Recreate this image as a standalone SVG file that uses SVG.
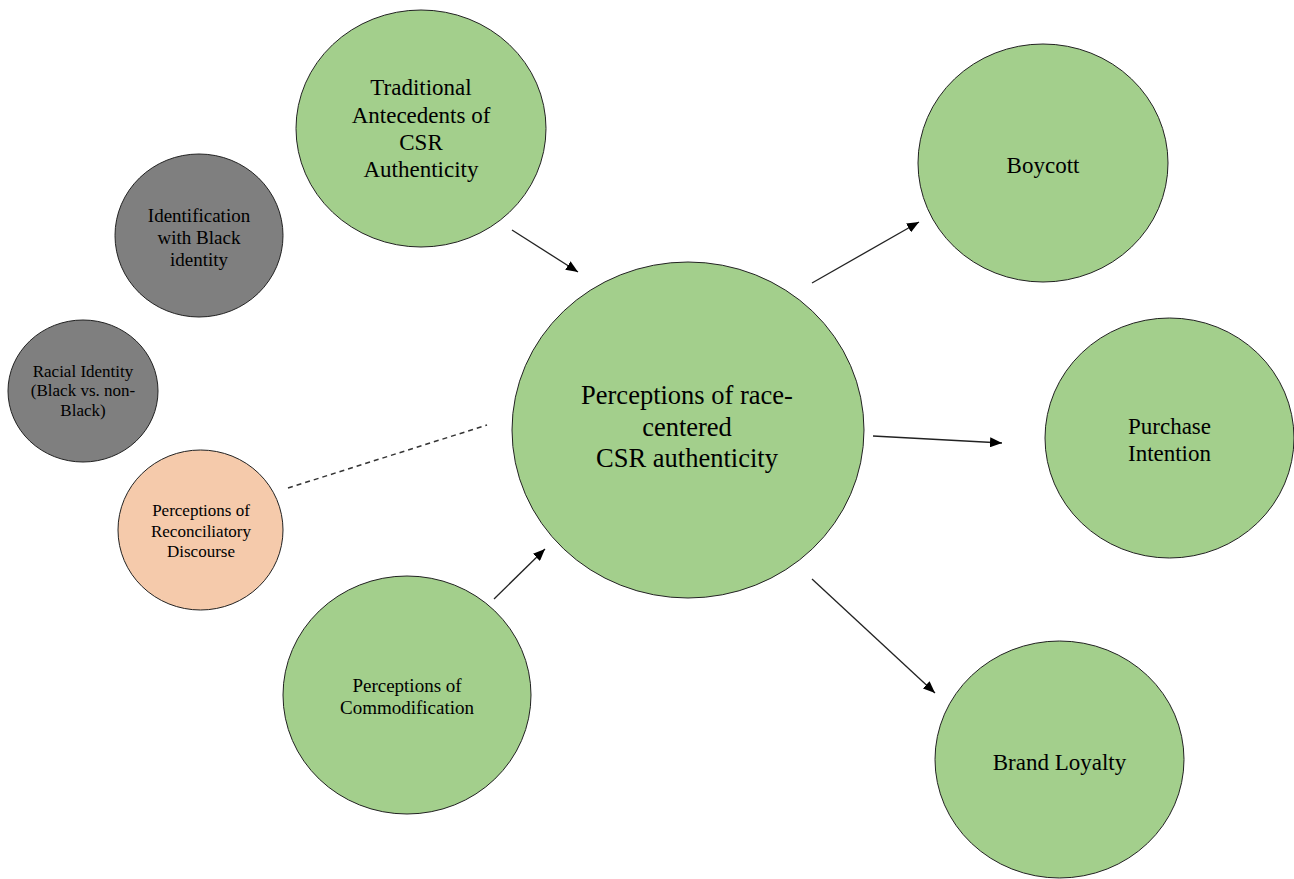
<svg xmlns="http://www.w3.org/2000/svg" width="1294" height="879" viewBox="0 0 1294 879">
<defs>
<marker id="ah" viewBox="0 0 12 10" refX="12" refY="5" markerWidth="12" markerHeight="10" markerUnits="userSpaceOnUse" orient="auto">
<path d="M0,0 L12,5 L0,10 z" fill="#000"/>
</marker>
<style>
.g{fill:#a3cf8c;stroke:#222;stroke-width:1}
.d{fill:#7f7f7f;stroke:#222;stroke-width:1}
.s{fill:#f5caab;stroke:#222;stroke-width:1}
text{font-family:"Liberation Serif","Times New Roman",serif;fill:#000;text-anchor:middle}
.t23{font-size:23px}
.t26{font-size:26.5px}
.t19{font-size:19px}
.t17{font-size:17px}
.a{stroke:#222;stroke-width:1.3;fill:none;marker-end:url(#ah)}
.dash{stroke:#333;stroke-width:1.5;fill:none;stroke-dasharray:5,4}
</style>
</defs>
<rect width="1294" height="879" fill="#fff"/>
<g id="connectors">
<line class="a" x1="512" y1="230" x2="578" y2="272"/>
<line class="a" x1="494" y1="599" x2="545" y2="549"/>
<line class="a" x1="812" y1="283" x2="919" y2="222"/>
<line class="a" x1="873" y1="436" x2="1002" y2="443"/>
<line class="a" x1="812" y1="579" x2="935" y2="693"/>
<line class="dash" x1="288" y1="488" x2="487" y2="425"/>
</g>
<g id="traditional">
<ellipse class="g" cx="421" cy="128.5" rx="125" ry="118.5"/>
<text class="t23" x="421" y="95">Traditional</text>
<text class="t23" x="421" y="123">Antecedents of</text>
<text class="t23" x="421" y="150">CSR</text>
<text class="t23" x="421" y="177">Authenticity</text>
</g>
<g id="identification">
<ellipse class="d" cx="199" cy="235.5" rx="84" ry="81.5"/>
<text class="t19" x="199" y="222">Identification</text>
<text class="t19" x="199" y="244">with Black</text>
<text class="t19" x="199" y="266">identity</text>
</g>
<g id="racial">
<ellipse class="d" cx="83" cy="391" rx="75" ry="71"/>
<text class="t17" x="83" y="377">Racial Identity</text>
<text class="t17" x="83" y="396">(Black vs. non-</text>
<text class="t17" x="83" y="416">Black)</text>
</g>
<g id="reconciliatory">
<ellipse class="s" cx="200.5" cy="530" rx="82.5" ry="80"/>
<text class="t17" x="201" y="516">Perceptions of</text>
<text class="t17" x="201" y="537">Reconciliatory</text>
<text class="t17" x="201" y="557">Discourse</text>
</g>
<g id="commodification">
<ellipse class="g" cx="407" cy="695" rx="124" ry="119"/>
<text class="t19" x="407" y="692">Perceptions of</text>
<text class="t19" x="407" y="714">Commodification</text>
</g>
<g id="central">
<ellipse class="g" cx="688" cy="430" rx="176" ry="168"/>
<text class="t26" x="687" y="404">Perceptions of race-</text>
<text class="t26" x="687" y="436">centered</text>
<text class="t26" x="687" y="467">CSR authenticity</text>
</g>
<g id="boycott">
<ellipse class="g" cx="1043" cy="163" rx="125" ry="119"/>
<text class="t23" x="1043" y="173">Boycott</text>
</g>
<g id="purchase">
<ellipse class="g" cx="1169.5" cy="438" rx="124.5" ry="120"/>
<text class="t23" x="1169.5" y="434">Purchase</text>
<text class="t23" x="1169.5" y="461">Intention</text>
</g>
<g id="loyalty">
<ellipse class="g" cx="1059.5" cy="759.5" rx="124.5" ry="118.5"/>
<text class="t23" x="1059.5" y="770">Brand Loyalty</text>
</g>
</svg>
